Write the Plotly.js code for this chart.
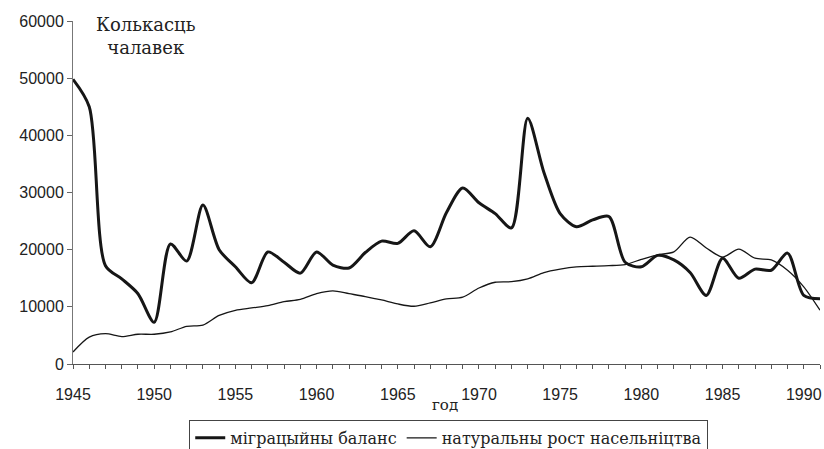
<!DOCTYPE html>
<html>
<head>
<meta charset="utf-8">
<script src="https://cdn.plot.ly/plotly-3.0.1.min.js"></script>
<style>
  html, body { margin: 0; padding: 0; background: #fff; }
  #chart { width: 824px; height: 449px; }
</style>
</head>
<body>
<div id="chart"></div>
<script>
var years = [];
for (var y = 1945; y <= 1991; y++) years.push(y);

// міграцыйны баланс, чалавек
var migration = [
    49800, 45000, 17200, 14900, 12300, 7300, 21000, 18000, 27800, 20000,
    17000, 14200, 19600, 17800, 15900, 19600, 17300, 16800, 19500, 21500,
    21100, 23300, 20500, 26500, 30800, 28200, 26300, 23800, 43000, 33500,
    26300, 24000, 25200, 25800, 17800, 17000, 19000, 18200, 16000, 12000,
    18500, 15000, 16600, 16400, 19400, 12000, 11400
];

// натуральны рост насельніцтва, чалавек
var naturalGrowth = [
    2100, 4700, 5300, 4800, 5200, 5200, 5600, 6600, 6800, 8500,
    9400, 9800, 10200, 10900, 11300, 12300, 12800, 12300, 11800, 11200,
    10500, 10100, 10700, 11400, 11700, 13300, 14300, 14400, 14900, 16000,
    16600, 17000, 17100, 17200, 17400, 18300, 19100, 19600, 22200, 20300,
    18700, 20100, 18500, 18200, 16400, 13500, 9400
];

var seriesNames = ['міграцыйны баланс', 'натуральны рост насельніцтва'];

function drawChart(divId) {
    var migrationTrace = {
        x: years,
        y: migration,
        type: 'scatter',
        mode: 'lines',
        name: seriesNames[0],
        line: {color: '#161616', width: 3, shape: 'spline', smoothing: 0.8}
    };

    var growthTrace = {
        x: years,
        y: naturalGrowth,
        type: 'scatter',
        mode: 'lines',
        name: seriesNames[1],
        line: {color: '#161616', width: 1.3, shape: 'spline', smoothing: 0.8}
    };

    var layout = {
        width: 824,
        height: 449,
        paper_bgcolor: '#fff',
        plot_bgcolor: '#fff',
        // legend is cut off at the bottom edge, as in the scan
        margin: {l: 73, r: 4, t: 21, b: 85, autoexpand: false},
        showlegend: true,
        legend: {
            orientation: 'h',
            x: 0.503,
            xanchor: 'center',
            y: -0.163,
            yanchor: 'top',
            bordercolor: '#444',
            borderwidth: 1,
            font: {family: 'DejaVu Serif', size: 16, color: '#222'}
        },
        xaxis: {
            range: [1945, 1991],
            tick0: 1945,
            dtick: 5,
            ticks: 'outside',
            ticklen: 4,
            tickcolor: '#555',
            ticklabelstandoff: 12,
            showline: true,
            linecolor: '#555',
            linewidth: 1,
            showgrid: false,
            zeroline: false,
            tickfont: {family: 'Liberation Sans, Arial', size: 16, color: '#222'},
            minor: {dtick: 1, ticks: 'outside', ticklen: 4, tickcolor: '#555', showgrid: false}
        },
        yaxis: {
            range: [0, 60000],
            dtick: 10000,
            ticks: 'outside',
            ticklen: 5,
            tickcolor: '#666',
            showline: true,
            linecolor: '#777',
            linewidth: 1,
            showgrid: false,
            zeroline: false,
            tickformat: 'd',
            tickfont: {family: 'Liberation Sans, Arial', size: 16, color: '#222'}
        },
        annotations: [
            {
                text: 'Колькасць<br>чалавек',
                xref: 'paper', yref: 'paper',
                x: 0.098, y: 1.025,
                xanchor: 'center', yanchor: 'top',
                showarrow: false,
                align: 'center',
                font: {family: 'DejaVu Serif', size: 18, color: '#222'}
            },
            {
                text: 'год',
                xref: 'paper', yref: 'paper',
                x: 0.498, y: -0.088,
                xanchor: 'center', yanchor: 'top',
                showarrow: false,
                font: {family: 'DejaVu Serif', size: 15, color: '#222'}
            }
        ]
    };

    return Plotly.newPlot(divId, [migrationTrace, growthTrace], layout, {displayModeBar: false});
}

drawChart('chart');
</script>
</body>
</html>
